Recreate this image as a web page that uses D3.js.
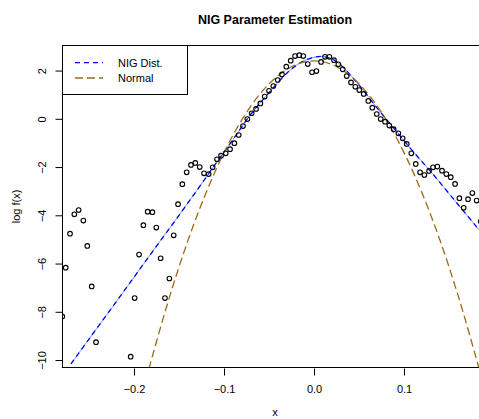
<!DOCTYPE html>
<html><head><meta charset="utf-8">
<script src="https://cdn.jsdelivr.net/npm/d3@7"></script>
<style>body{margin:0;background:#fff}svg{display:block;font-family:"Liberation Sans",Arial,sans-serif}</style>
</head><body><svg id="c" width="479" height="419"></svg>
<script>
const title = "NIG Parameter Estimation";
const xTicks = [-0.2, -0.1, 0.0, 0.1];
const xTickLabels = ["\u22120.2", "\u22120.1", "0.0", "0.1"];
const yTicks = [2, 0, -2, -4, -6, -8, -10];
const yTickLabels = ["2", "0", "\u22122", "\u22124", "\u22126", "\u22128", "\u221210"];
const legendLabels = ["NIG Dist.", "Normal"];

// empirical log density points
const pointX = [-0.2797,-0.2759,-0.2711,-0.2663,-0.2615,-0.2563,-0.2519,-0.2470,-0.2422,
 -0.2037,-0.1993,-0.1944,-0.1896,-0.1848,-0.1796,-0.1752,-0.1704,-0.1656,-0.1607,-0.1559,-0.1511,-0.1463,
 -0.1415,-0.1367,-0.1319,-0.1270,-0.1222,-0.1170,-0.1126,-0.1078,-0.1033,-0.0981,-0.0933,-0.0885,-0.0837,
 -0.0789,-0.0741,-0.0693,-0.0644,-0.0596,-0.0548,-0.0500,-0.0452,-0.0403,-0.0356,-0.0308,-0.0259,-0.0211,
 -0.0163,-0.0119,-0.0070,-0.0022,0.0026,0.0078,0.0122,0.0170,0.0222,0.0270,0.0319,0.0363,0.0411,0.0459,
 0.0503,0.0552,0.0603,0.0648,0.0697,0.0741,0.0789,0.0837,0.0885,0.0937,0.0985,0.1030,0.1081,0.1130,0.1178,
 0.1226,0.1278,0.1322,0.1370,0.1422,0.1470,0.1519,0.1567,0.1615,0.1663,0.1711,0.1759,0.1807,0.1852];
const pointY = [-8.19,-6.17,-4.76,-3.96,-3.78,-4.22,-5.27,-6.95,-9.26,
 -9.86,-7.43,-5.63,-4.41,-3.85,-3.87,-4.51,-5.78,-7.43,-6.62,-4.83,-3.54,-2.71,
 -2.22,-1.91,-1.83,-2.00,-2.26,-2.29,-2.01,-1.68,-1.53,-1.43,-1.26,-1.01,-0.67,
 -0.30,-0.01,0.23,0.41,0.64,0.92,1.16,1.36,1.61,1.84,2.16,2.41,2.60,
 2.64,2.60,2.27,1.93,1.98,2.36,2.57,2.57,2.43,2.26,2.05,1.77,1.51,1.33,
 1.19,1.03,0.74,0.46,0.20,-0.01,-0.12,-0.28,-0.43,-0.60,-0.81,-1.04,-1.43,-1.87,-2.22,
 -2.33,-2.16,-2.01,-1.98,-2.15,-2.29,-2.42,-2.70,-3.29,-3.69,-3.33,-3.08,-3.39,-4.26];

// fitted NIG log density
const nigX = [-0.27,-0.25,-0.23,-0.21,-0.19,-0.17,-0.15,-0.13,-0.11,-0.09,-0.07,-0.05,-0.03,-0.015,0,0.01,0.02,0.03,0.05,0.07,0.09,0.11,0.13,0.15,0.17,0.19,0.21];
const nigY = [-10.16,-9.13,-8.11,-7.08,-6.05,-5.02,-4.00,-2.96,-1.90,-0.86,0.20,1.08,1.90,2.33,2.55,2.58,2.48,2.22,1.40,0.45,-0.45,-1.35,-2.20,-3.10,-4.00,-4.90,-5.80];
// fitted Normal log density
const normX = [-0.20,-0.19,-0.18,-0.16,-0.14,-0.12,-0.10,-0.08,-0.06,-0.04,-0.02,0,0.02,0.04,0.06,0.08,0.10,0.12,0.14,0.16,0.18,0.19,0.20];
const normY = [-12.78,-11.30,-9.90,-7.32,-5.04,-3.07,-1.40,-0.03,1.03,1.79,2.25,2.40,2.25,1.79,1.03,-0.03,-1.40,-3.07,-5.04,-7.32,-9.90,-11.30,-12.78];

const L = 62, R = 488, T = 45, B = 368;
const x = d3.scaleLinear().domain([-0.28, 0.1933]).range([L, R]);
const y = d3.scaleLinear().domain([-10.33, 3.06]).range([B, T]);
const svg = d3.select("#c");

svg.append("clipPath").attr("id","clip").append("rect")
  .attr("x",L).attr("y",T).attr("width",R-L).attr("height",B-T);

const g = svg.append("g").attr("clip-path","url(#clip)");
const line = d3.line().curve(d3.curveCatmullRom).x(d=>x(d[0])).y(d=>y(d[1]));

const normData = normX.map((v,i)=>[v,normY[i]]);
const nigData = nigX.map((v,i)=>[v,nigY[i]]);

g.append("path").datum(nigData).attr("d",line).attr("fill","none")
  .attr("stroke","#6fa3dc").attr("stroke-width",1);
g.append("path").datum(nigData).attr("d",line).attr("fill","none")
  .attr("stroke","#0000ff").attr("stroke-width",1.3).attr("stroke-dasharray","5,4");
g.append("path").datum(normData).attr("d",line).attr("fill","none")
  .attr("stroke","#9c6a17").attr("stroke-width",1.3).attr("stroke-dasharray","8,4");

g.selectAll("circle").data(pointX.map((v,i)=>[v,pointY[i]])).join("circle")
  .attr("cx",d=>x(d[0])).attr("cy",d=>y(d[1])).attr("r",2.3)
  .attr("fill","none").attr("stroke","#000").attr("stroke-width",1.1);

// frame
svg.append("rect").attr("x",L+0.5).attr("y",T+0.5).attr("width",R-L).attr("height",B-T-1)
  .attr("fill","none").attr("stroke","#000").attr("stroke-width",1);

// axes
const xAxis = d3.axisBottom(x).tickValues(xTicks).tickSize(7).tickFormat((d,i)=>xTickLabels[i]);
const ax = svg.append("g").attr("transform",`translate(0,${B+0.5})`).call(xAxis);
ax.select(".domain").remove();
ax.selectAll("text").attr("font-size",11).attr("font-family","Liberation Sans, Arial").attr("dy",null).attr("y",24).attr("fill","#000");
ax.selectAll("line").attr("stroke","#000");

const yAxis = d3.axisLeft(y).tickValues(yTicks).tickSize(7).tickFormat((d,i)=>yTickLabels[i]);
const ay = svg.append("g").attr("transform",`translate(${L+0.5},0)`).call(yAxis);
ay.select(".domain").remove();
ay.selectAll("line").attr("stroke","#000");
ay.selectAll("text").attr("font-size",11).attr("font-family","Liberation Sans, Arial")
  .attr("x",null).attr("dy",null).attr("text-anchor","middle").attr("fill","#000")
  .attr("transform","translate(-17,0) rotate(-90)").attr("y",0);

// labels
svg.append("text").attr("x",(L+R)/2).attr("y",23.5).attr("text-anchor","middle")
  .attr("font-size",12.5).attr("font-weight","bold").text(title);
svg.append("text").attr("x",(L+R)/2).attr("y",416).attr("text-anchor","middle")
  .attr("font-size",11).text("x");
svg.append("text").attr("transform",`translate(19.7,${(T+B)/2}) rotate(-90)`).attr("text-anchor","middle")
  .attr("font-size",11).text("log f(x)");

// legend
const lg = svg.append("g");
lg.append("rect").attr("x",L+0.5).attr("y",T+0.5).attr("width",125).attr("height",49)
  .attr("fill","#fff").attr("stroke","#000").attr("stroke-width",1);
const legCols = ["#0000ff","#9c6a17"], legDash = ["5,4","8,4"], legY = [62.7, 78];
legendLabels.forEach((t,i)=>{
  lg.append("line").attr("x1",75).attr("x2",103).attr("y1",legY[i]).attr("y2",legY[i])
    .attr("stroke",legCols[i]).attr("stroke-width",1.3).attr("stroke-dasharray",legDash[i]);
  lg.append("text").attr("x",118).attr("y",legY[i]+4).attr("font-size",11).text(t);
});
</script></body></html>
